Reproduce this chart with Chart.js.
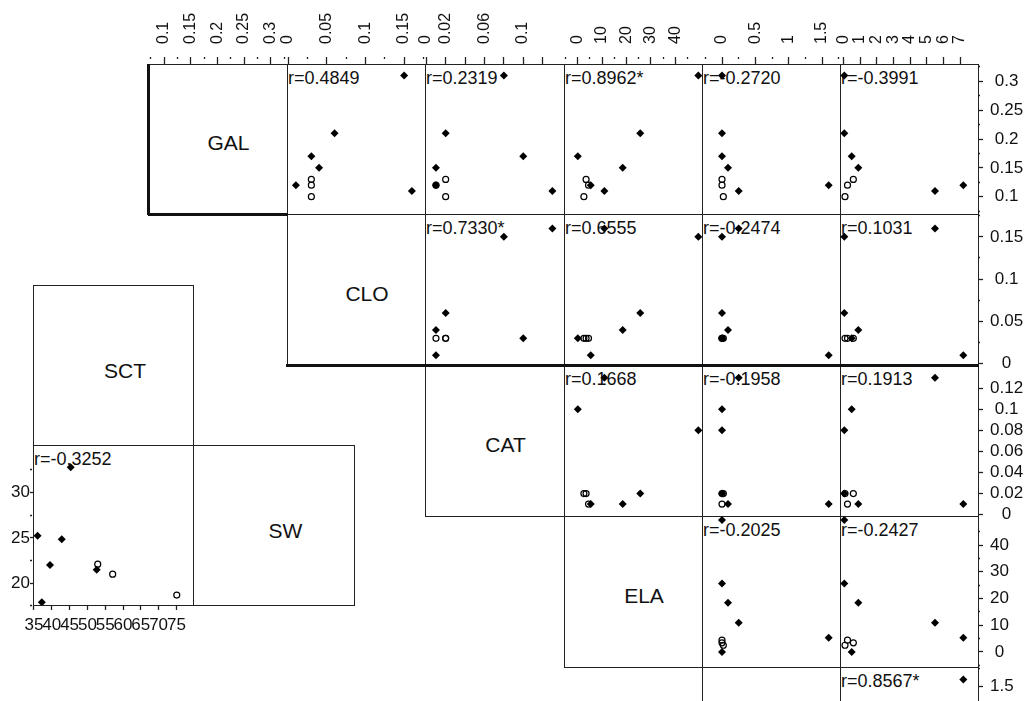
<!DOCTYPE html>
<html>
<head>
<meta charset="utf-8">
<script src="https://cdn.jsdelivr.net/npm/chart.js@4.4.0/dist/chart.umd.min.js"></script>
<style>
  body { margin:0; width:1026px; height:701px; overflow:hidden; position:relative; background:#fff;
         font-family:"Liberation Sans", Arial, sans-serif; }
  canvas { position:absolute; z-index:2; }
  .frame { position:absolute; box-sizing:border-box; border:1px solid #222; z-index:1; }
  .thick { position:absolute; background:#111; z-index:1; }
  .txt { position:absolute; white-space:nowrap; color:#111; z-index:1; }
</style>
</head>
<body>
<script>
// ---- data: nine observations, first six filled diamonds, last three open circles ----
const group = ['f', 'f', 'f', 'f', 'f', 'f', 'o', 'o', 'o'];
const GAL = [0.31, 0.21, 0.17, 0.15, 0.12, 0.11, 0.13, 0.12, 0.10];
const CLO = [0.15, 0.06, 0.03, 0.04, 0.01, 0.16, 0.03, 0.03, 0.03];
const CAT = [0.08, 0.02, 0.10, 0.01, 0.01, 0.13, 0.02, 0.01, 0.02];
const ELA = [49.4, 25.6, 0.0, 18.4, 5.3, 10.9, 3.4, 4.4, 2.5];
const V5  = [0.0, 0.0, 0.0, 0.09, 1.6, 0.25, 0.0, 0.0, 0.02];
const V6  = [0.06, 0.06, 0.5, 0.9, 7.2, 5.5, 0.6, 0.25, 0.1];
const SCT = [45.3, 36.0, 42.8, 39.5, 52.6, 37.2, 52.9, 57.1, 75.1];
const SW  = [32.8, 25.25, 24.85, 22.0, 21.5, 17.9, 22.1, 21.0, 18.7];

const diagNames = ['GAL', 'CLO', 'CAT', 'ELA', ''];
const rLabels = [
  [null, 'r=0.4849', 'r=0.2319', 'r=0.8962*', 'r=-0.2720', 'r=-0.3991'],
  [null, null, 'r=0.7330*', 'r=0.6555', 'r=-0.2474', 'r=0.1031'],
  [null, null, null, 'r=0.1668', 'r=-0.1958', 'r=0.1913'],
  [null, null, null, null, 'r=-0.2025', 'r=-0.2427'],
  [null, null, null, null, null, 'r=0.8567*']
];
const miniR = 'r=-0.3252';

// tick values
const galTicks = [0.1, 0.15, 0.2, 0.25, 0.3];
const galMinor = [0.075, 0.125, 0.175, 0.225, 0.275, 0.325];
const cloTicks = [0, 0.05, 0.1, 0.15];
const cloMinor = [0.025, 0.075, 0.125, 0.175];
const catTopTicks = [0, 0.02, 0.06, 0.1];
const catTopPlain = [0.04, 0.08, 0.12];
const catRightTicks = [0, 0.02, 0.04, 0.06, 0.08, 0.1, 0.12];
const elaTicks = [0, 10, 20, 30, 40];
const elaMinor = [-5, 5, 15, 25, 35, 45];
const v5Ticks = [0, 0.5, 1, 1.5];
const v5Minor = [-0.25, 0.25, 0.75, 1.25, 1.75];
const v6Ticks = [0, 1, 2, 3, 4, 5, 6, 7];
const sctTicks = [35, 40, 45, 50, 55, 60, 65, 70, 75];
const swTicks = [20, 25, 30];
const swMinor = [17.5, 22.5, 27.5, 32.5];

// ---- layout ----
const FONT = '"Liberation Sans", Arial, sans-serif';
const X = [148, 287, 425, 564, 702, 840, 978];
const Y = [64, 214, 365, 516, 667, 818];
const vals = [GAL, CLO, CAT, ELA, V5, V6];
const ranges = [[0.070, 0.330], [-0.0015, 0.177], [-0.0013, 0.142], [-5.65, 50.9], [-0.30, 1.77], [-0.2, 8.08]];
const topSpec = [
  { lab: galTicks, minor: galMinor },
  { lab: cloTicks, minor: cloMinor },
  { lab: catTopTicks, full: catTopPlain },
  { lab: elaTicks, minor: elaMinor },
  { lab: v5Ticks, minor: v5Minor },
  { lab: v6Ticks }
];
const rightSpec = [
  { lab: galTicks, minor: galMinor },
  { lab: cloTicks, minor: cloMinor },
  { lab: catRightTicks },
  { lab: elaTicks, minor: elaMinor },
  { lab: v5Ticks, minor: v5Minor }
];
const topStyle = { tl: 7, pad: 13, rot: 90, fs: 16, off: 19 };
const rightStyle = { tl: 5, pad: 7, cross: 'center', fs: 17 };

function addDiv(cls, l, t, w, h) {
  const d = document.createElement('div');
  d.className = cls;
  d.style.left = l + 'px'; d.style.top = t + 'px';
  if (w != null) d.style.width = w + 'px';
  if (h != null) d.style.height = h + 'px';
  document.body.appendChild(d);
  return d;
}
function frame(x0, y0, x1, y1) { addDiv('frame', x0, y0, x1 - x0 + 1, y1 - y0 + 1); }
function text(str, l, t, size) {
  const d = addDiv('txt', l, t);
  d.style.fontSize = size + 'px'; d.style.lineHeight = size + 'px';
  d.textContent = str;
  return d;
}
function diagText(str, x0, y0, x1, y1, dx, dy) {
  const d = addDiv('txt', x0 + dx, (y0 + y1) / 2 + dy - 10.3, x1 - x0);
  d.style.fontSize = '21px'; d.style.lineHeight = '21px'; d.style.textAlign = 'center';
  d.textContent = str;
}

function addCanvas(l, t, w, h) {
  const c = document.createElement('canvas');
  c.width = w; c.height = h;
  c.style.left = l + 'px'; c.style.top = t + 'px';
  c.style.width = w + 'px'; c.style.height = h + 'px';
  document.body.appendChild(c);
  return c.getContext('2d');
}

function axisScale(range, spec, pos, size, st) {
  const minor = spec.minor || [];
  const all = spec.lab.concat(spec.full || [], minor).sort((a, b) => a - b);
  const has = (arr, v) => arr.some(m => Math.abs(m - v) < 1e-9);
  const horiz = pos === 'top' || pos === 'bottom';
  return {
    type: 'linear', position: pos, min: range[0], max: range[1],
    afterBuildTicks: s => { s.ticks = all.map(v => ({ value: v })); },
    afterFit: s => {
      if (horiz) s.height = size; else s.width = size;
      s.paddingLeft = 0; s.paddingRight = 0; s.paddingTop = 0; s.paddingBottom = 0;
    },
    border: { display: false },
    grid: {
      drawOnChartArea: false, tickLength: st.tl, tickColor: '#222', tickWidth: 1.3,
      tickBorderDash: c => (c.tick && has(minor, c.tick.value)) ? [2, 40] : []
    },
    ticks: {
      autoSkip: false, color: '#111', padding: st.pad,
      minRotation: st.rot || 0, maxRotation: st.rot || 0,
      crossAlign: st.cross || 'near', labelOffset: st.off || 0,
      font: { family: FONT, size: st.fs },
      callback: v => has(spec.lab, v) ? String(v) : ''
    }
  };
}

function pts(xv, yv, g) {
  const out = [];
  xv.forEach((x, i) => { if (group[i] === g) out.push({ x: x, y: yv[i] }); });
  return out;
}

function scatterPanel(o) {
  const P = 12;
  const eL = o.left ? o.left.size : P, eR = o.right ? o.right.size : P;
  const eT = o.top ? o.top.size : P, eB = o.bottom ? o.bottom.size : P;
  const ctx = addCanvas(o.x0 - eL, o.y0 - eT, o.x1 - o.x0 + eL + eR, o.y1 - o.y0 + eT + eB);
  const xa = o.top || o.bottom, ya = o.left || o.right;
  const datasets = o.xv ? [
    { data: pts(o.xv, o.yv, 'f'), pointStyle: 'rectRot', pointRadius: 4,
      backgroundColor: '#000', borderColor: '#000', borderWidth: 0 },
    { data: pts(o.xv, o.yv, 'o'), pointStyle: 'circle', pointRadius: 3,
      backgroundColor: 'rgba(0,0,0,0)', borderColor: '#000', borderWidth: 1.2 }
  ] : [];
  new Chart(ctx, {
    type: 'scatter',
    data: { datasets: datasets },
    options: {
      responsive: false, animation: false, events: [],
      layout: { autoPadding: false,
        padding: { left: o.left ? 0 : P, right: o.right ? 0 : P, top: o.top ? 0 : P, bottom: o.bottom ? 0 : P } },
      plugins: { legend: { display: false }, tooltip: { enabled: false } },
      scales: {
        x: xa ? axisScale(o.xr, xa.spec, o.top ? 'top' : 'bottom', xa.size, xa.style)
              : { type: 'linear', display: false, min: o.xr[0], max: o.xr[1] },
        y: ya ? axisScale(o.yr, ya.spec, o.left ? 'left' : 'right', ya.size, ya.style)
              : { type: 'linear', display: false, min: o.yr[0], max: o.yr[1] }
      }
    }
  });
}

// ---- main triangular matrix ----
for (let r = 0; r < 5; r++) {
  for (let c = r; c < 6; c++) {
    const x0 = X[c], y0 = Y[r], x1 = X[c + 1], y1 = Y[r + 1];
    frame(x0, y0, x1, y1);
    const top = r === 0 ? { spec: topSpec[c], size: Y[0], style: topStyle } : null;
    const right = c === 5 ? { spec: rightSpec[r], size: 1026 - X[6], style: rightStyle } : null;
    if (c === r) {
      if (diagNames[r]) diagText(diagNames[r], x0, y0, x1, y1, 11, 3.5);
      if (top) scatterPanel({ x0, y0, x1, y1, xr: ranges[c], yr: ranges[r], top });
      continue;
    }
    text(rLabels[r][c], x0 + 1, y0 + 5.4, 18);
    scatterPanel({ x0, y0, x1, y1, xv: vals[c], yv: vals[r], xr: ranges[c], yr: ranges[r], top, right });
  }
}
addDiv('thick', 147, 64, 3, 151);
addDiv('thick', 148, 213, 140, 3);
addDiv('thick', 286, 364, 693, 3);

// ---- SCT / SW pair ----
frame(33, 285, 193, 445);
frame(193, 445, 354, 605);
frame(33, 445, 193, 605);
diagText('SCT', 33, 285, 193, 445, 12, 5);
diagText('SW', 193, 445, 354, 605, 12, 5);
text(miniR, 34, 450.4, 18);
scatterPanel({
  x0: 33, y0: 445, x1: 193, y1: 605, xv: SCT, yv: SW,
  xr: [34.72, 79.66], yr: [17.6, 35.25],
  left: { spec: { lab: swTicks, minor: swMinor }, size: 33, style: { tl: 3, pad: 0, fs: 17 } },
  bottom: { spec: { lab: sctTicks }, size: 96, style: { tl: 5, pad: 5, fs: 17 } }
});
</script>
</body>
</html>
